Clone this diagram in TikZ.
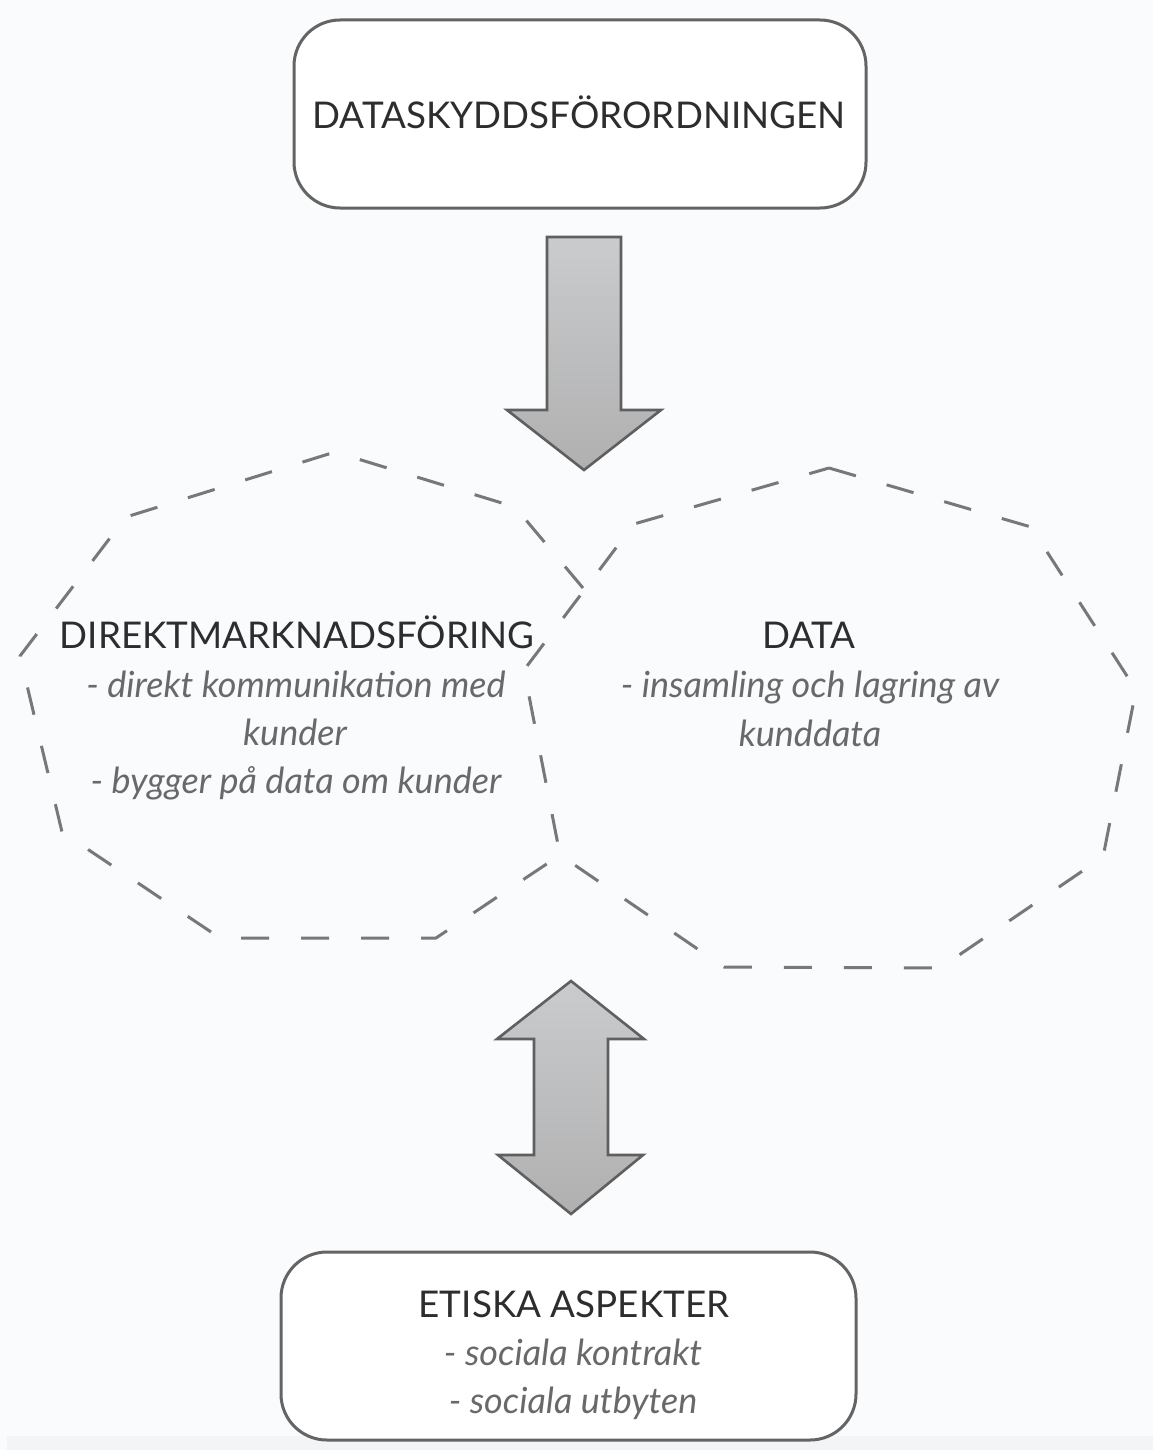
\documentclass[tikz,border=0pt]{standalone}
\usepackage{fontspec}
\setmainfont{Lato}
\definecolor{bgc}{RGB}{249,251,252}
\definecolor{bandc}{RGB}{243,244,245}
\definecolor{boxline}{RGB}{100,100,100}
\definecolor{titlec}{RGB}{45,45,45}
\definecolor{subc}{RGB}{105,105,105}
\definecolor{arrline}{RGB}{95,95,95}
\definecolor{arrtop}{RGB}{202,203,204}
\definecolor{arrbot}{RGB}{176,176,177}
\definecolor{dashc}{RGB}{120,120,120}
\begin{document}
\begin{tikzpicture}[x=0.5pt,y=-0.5pt]
\tikzset{
 box/.style={draw=boxline, line width=1.5pt, rounded corners=23pt, fill=white, inner sep=0pt},
 ttl/.style={text=titlec, font=\fontsize{18.4}{22}\selectfont, anchor=base, inner sep=0pt},
 sub/.style={text=subc, font=\itshape\fontsize{18}{22}\selectfont, anchor=base, inner sep=0pt},
 blk/.style={draw=arrline, line width=1.3pt, top color=arrtop, bottom color=arrbot, line join=miter},
 dsh/.style={draw=dashc, line width=1.5pt, dash pattern=on 14pt off 16pt, line join=round},
}
\fill[bgc] (0,0) rectangle (1153,1450);
\fill[bandc] (7,1436) rectangle (1153,1450);
\useasboundingbox (0,0) rectangle (1153,1450);

% boxes
\node[box, minimum width=286pt, minimum height=94pt] (gdpr) at (580,114) {};
\node[box, minimum width=287.5pt, minimum height=94pt] (etik) at (568.5,1346) {};

% polygons
\coordinate (L1) at (335,452);
\coordinate (L2) at (515,507);
\coordinate (L3) at (583,588);
\coordinate (L5) at (560,855);
\coordinate (L6) at (436,938);
\coordinate (L7) at (220,938);
\coordinate (L8) at (62,832);
\coordinate (L9) at (20,656);
\coordinate (L10) at (126,517);
\coordinate (R1) at (829,468);
\coordinate (R2) at (1031,527);
\coordinate (R3) at (1136,690);
\coordinate (R4) at (1103,857);
\coordinate (R5) at (940,968);
\coordinate (R6) at (724,967);
\coordinate (R8) at (524,670);
\coordinate (R9) at (634,524);
\path[dsh] (R1) -- (R2) -- (R3) -- (R4) -- (R5) -- (R6) -- (L5) -- (R8) -- (R9) -- cycle;
\path[dsh] (L3) -- (L2) -- (L1) -- (L10) -- (L9) -- (L8) -- (L7) -- (L6) -- (L5);

% block arrows
\path[blk] (547,237) -- (621,237) -- (621,410) -- (661,410) -- (584,470) -- (507,410) -- (547,410) -- cycle;
\path[blk] (571,981) -- (644,1039) -- (608,1039) -- (608,1155) -- (643,1155) -- (571,1214)
  -- (498,1155) -- (534,1155) -- (534,1039) -- (497,1039) -- cycle;

% texts
\node[ttl] (t1) at (579,128) {DATASKYDDSFÖRORDNINGEN};
\node[ttl] (t2) at (297,648) {DIREKTMARKNADSFÖRING};
\node[sub] (t2a) at (296,697) {- direkt kommunikation med};
\node[sub] (t2b) at (295,745) {kunder};
\node[sub] (t2c) at (296,793) {- bygger på data om kunder};
\node[ttl] (t3) at (809,648) {DATA};
\node[sub] (t3a) at (810,697) {- insamling och lagring av};
\node[sub] (t3b) at (810,746) {kunddata};
\node[ttl] (t4) at (574,1317) {ETISKA ASPEKTER};
\node[sub] (t4a) at (573,1365) {- sociala kontrakt};
\node[sub] (t4b) at (573,1413) {- sociala utbyten};
\end{tikzpicture}
\end{document}
